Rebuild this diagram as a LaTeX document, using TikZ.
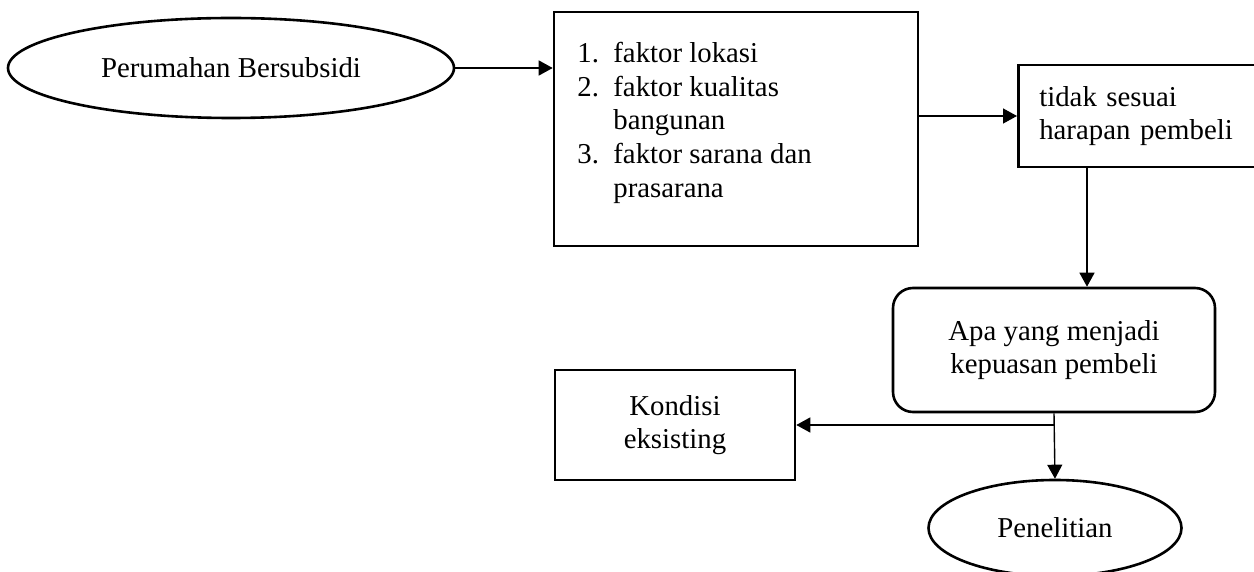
\documentclass[tikz,border=0pt]{standalone}
\usepackage{fontspec}
\setmainfont{Liberation Serif}
\usetikzlibrary{arrows.meta,shapes.geometric}
\begin{document}
\begin{tikzpicture}[x=0.5pt,y=-0.5pt,
  box/.style={draw,line width=1.3pt,inner sep=0pt},
  oval/.style={draw,ellipse,line width=1.3pt,inner sep=0pt},
  arr/.style={line width=0.7pt,-{Triangle[length=7pt,width=7.5pt]}},
  txt/.style={font=\fontsize{14.4pt}{16.8pt}\selectfont}]
\useasboundingbox (0,0) rectangle (1254,572);
\fill[white] (0,0) rectangle (1254,572);
\clip (0,0) rectangle (1254,572);
\node[oval,txt,minimum width=223pt,minimum height=50pt] (e1) at (231,68) {Perumahan Bersubsidi};
\node[box,minimum width=182pt,minimum height=117pt] (b1) at (736,129) {};
\node[txt,anchor=north west,align=left,inner sep=0pt] (l1) at (577,42)
  {\makebox[18pt][l]{1.}faktor lokasi\\
   \makebox[18pt][l]{2.}faktor kualitas\\
   \hspace*{18pt}bangunan\\
   \makebox[18pt][l]{3.}faktor sarana dan\\
   \hspace*{18pt}prasarana};
\node[box,txt,align=left,text width=108pt,inner xsep=10.5pt,minimum height=51pt,anchor=west] (b2) at (1017,116) {tidak sesuai\\harapan pembeli};
\node[box,txt,rounded corners=10pt,align=center,minimum width=161pt,minimum height=62pt] (b3) at (1054,350) {Apa yang menjadi\\kepuasan pembeli};
\node[box,txt,align=center,minimum width=120pt,minimum height=55pt] (b4) at (675,425) {Kondisi\\eksisting};
\node[oval,txt,minimum width=126.5pt,minimum height=48pt] (e2) at (1055,528) {Penelitian};
\coordinate (c1) at (1087,167);
\draw[arr] (e1.east) -- (e1.east -| b1.west);
\draw[arr] (b2.west -| b1.east) -- (b2.west);
\draw[arr] (b2.south -| c1) -- (b3.north -| c1);
\draw[arr] (b3.south) -- (e2.north);
\draw[arr] (b3.south |- b4.east) -- (b4.east);
\end{tikzpicture}
\end{document}
